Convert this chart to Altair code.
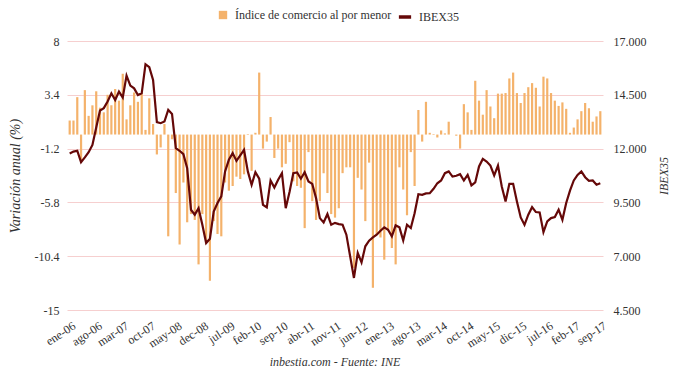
import altair as alt
import pandas as pd

MESES = ["ene", "feb", "mar", "abr", "may", "jun", "jul", "ago", "sep", "oct", "nov", "dic"]
meses = [f"{MESES[m]}-{y % 100:02d}" for y in range(2006, 2018) for m in range(12)][:141]
meses[35] = "dec-08"

comercio = [
    1.2, 1.2, 3.2, -2.3, 3.8, 1.6, 2.5, 3.7, 2.3, 1.9, 3.4, 2.5,
    3.9, 2.9, 5.2, 1.3, 2.5, 3.6, 2.8, 3.5, 0.4, 3.1, 0.9, -1.7,
    -1.1, 0.9, -8.7, -0.4, -5.0, -9.4, -4.1, -7.5, -6.8, -7.3, -11.1, -6.8,
    -9.1, -12.5, -7.4, -8.5, -8.7, -4.1, -4.8, -4.4, -3.6, -3.8, -3.4, 0.05,
    -3.1, 0.15, 5.3, -1.2, -0.6, 1.5, -2.0, -1.2, -2.8, -2.5, -0.65, -4.0,
    -4.4, -4.55, -8.0, -1.5, -5.7, -7.3, -5.7, -3.3, -5.0, -6.8, -7.1, -6.3,
    -3.3, -2.8, -2.8, -11.4, -3.7, -4.7, -7.4, -2.4, -13.1, -8.5, -8.8, -10.7,
    -8.2, -9.7, -11.1, -2.8, -4.7, -6.9, -1.5, -4.4, 2.1, -0.6, 2.8, 0.15,
    0.05, -0.25, 0.35, 0.1, 1.1, 0.0, -0.1, -1.2, 2.6, 1.9, 0.4, 4.6,
    2.9, 1.7, 3.8, 2.4, 1.4, 3.5, 3.5, 3.55, 4.8, 5.3, 3.55, 2.7,
    3.55, 4.05, 4.4, 4.0, 2.4, 4.95, 4.8, 3.55, 2.9, 2.45, 2.75, 2.2,
    0.15, 0.6, 1.3, 2.0, 2.7, 2.25, 1.1, 1.55, 2.0,
]

ibex = [
    11770, 11860, 11900, 11370, 11590, 11830, 12170, 12980, 13770, 13880, 14190, 14570,
    14260, 14650, 14370, 15390, 14930, 14800, 14490, 14570, 15920, 15780, 15190, 13230,
    13180, 13260, 13800, 13610, 12020, 11900, 11740, 11090, 9160, 8930, 9230, 8460,
    7610, 7810, 9080, 9470, 9780, 10940, 11480, 11790, 11430, 11680, 11940, 10940,
    10320, 10900, 10600, 9390, 9270, 10520, 10190, 10550, 10860, 9230, 9980, 10860,
    10890, 10600, 10900, 10470, 10360, 9700, 8770, 8570, 8960, 8460, 8550, 8490,
    8460, 8000, 6990, 5990, 7150, 6710, 7460, 7720, 7870, 8000, 8180, 8340,
    8230, 7920, 8430, 8340, 7730, 8460, 8310, 9000, 9880, 9850, 9920, 9930,
    10130, 10390, 10520, 10860, 10940, 10700, 10740, 10810, 10520, 10780, 10290, 10430,
    11170, 11520, 11400, 11210, 10750, 11210, 10240, 9540, 10360, 10360, 9540, 8800,
    8460, 8930, 9280, 9050, 9030, 8120, 8620, 8770, 8820, 9160, 8690, 9470,
    10050, 10520, 10780, 10940, 10670, 10500, 10520, 10320, 10390,
]

SERIES = ["Índice de comercio al por menor", "IBEX35"]
COLORES = ["#f4b26b", "#650808"]

df = pd.DataFrame({"mes": meses, "comercio": comercio, "ibex": ibex})

FONT = "Liberation Serif"
TXT = "#333333"

x = alt.X(
    "mes:N",
    sort=meses,
    scale=alt.Scale(paddingInner=0.42, paddingOuter=0.42),
    axis=alt.Axis(
        values=meses[::7], title=None, labelAngle=327, labelFontSize=12,
        labelFont=FONT, labelColor=TXT, ticks=False, domain=False, grid=False,
        labelPadding=10, labelOffset=2,
    ),
)

bars = alt.Chart(df).transform_calculate(serie=f"'{SERIES[0]}'").mark_bar().encode(
    x=x,
    y=alt.Y(
        "comercio:Q",
        scale=alt.Scale(domain=[-15, 8], nice=False, zero=False),
        axis=alt.Axis(
            values=[-15, -10.4, -5.8, -1.2, 3.4, 8],
            labelExpr="replace(format(datum.value, '.1~f'), '\u2212', '-')",
            title="Variación anual (%)", titleFontStyle="italic", titleFontWeight="normal",
            titleFontSize=14, titleFont=FONT, titleColor=TXT,
            labelFont=FONT, labelFontSize=12, labelColor=TXT,
            grid=True, gridColor="#f6cfcf", gridWidth=1,
            domain=False, ticks=False, labelPadding=8, titlePadding=12,
        ),
    ),
    y2=alt.Y2(datum=0),
    fill=alt.Fill(
        "serie:N",
        scale=alt.Scale(domain=[SERIES[0]], range=[COLORES[0]]),
        legend=alt.Legend(
            orient="none", legendX=150, legendY=-32, title=None,
            labelFont=FONT, labelFontSize=12, labelColor=TXT,
            symbolType="square", symbolSize=70, labelOffset=6,
            symbolStrokeWidth=0, symbolOpacity=1,
        ),
    ),
)

line = alt.Chart(df).transform_calculate(serie=f"'{SERIES[1]}'").mark_line(strokeWidth=2.2).encode(
    x=x,
    y=alt.Y(
        "ibex:Q",
        scale=alt.Scale(domain=[4500, 17000], nice=False, zero=False),
        axis=alt.Axis(
            orient="right",
            values=[4500, 7000, 9500, 12000, 14500, 17000],
            labelExpr="replace(format(datum.value, ',d'), ',', '.')",
            title="IBEX35", titleAngle=270, titleFontStyle="italic", titleFontWeight="normal",
            titleFontSize=12, titleFont=FONT, titleColor=TXT,
            labelFont=FONT, labelFontSize=12, labelColor=TXT,
            grid=False, domain=False, ticks=False, labelPadding=10, titlePadding=24,
        ),
    ),
    stroke=alt.Stroke(
        "serie:N",
        scale=alt.Scale(domain=[SERIES[1]], range=[COLORES[1]]),
        legend=alt.Legend(
            orient="none", legendX=330, legendY=-32, title=None,
            labelFont=FONT, labelFontSize=12, labelColor=TXT,
            symbolType="stroke", symbolSize=150, symbolStrokeWidth=3.5,
            labelOffset=6, symbolOpacity=1,
        ),
    ),
)

chart = (
    alt.layer(bars, line)
    .resolve_scale(y="independent")
    .properties(
        width=536,
        height=269,
        autosize=alt.AutoSizeParams(type="none"),
        padding={"left": 59, "top": 33, "right": 69, "bottom": 58},
        background="white",
        title=alt.Title(
            "inbestia.com - Fuente: INE", orient="bottom", anchor="middle",
            fontStyle="italic", fontWeight="normal", fontSize=12, font=FONT,
            color=TXT, offset=8,
        ),
    )
    .configure_view(stroke=None)
)

chart.save("out.html", embed_options={"renderer": "svg", "actions": False})
